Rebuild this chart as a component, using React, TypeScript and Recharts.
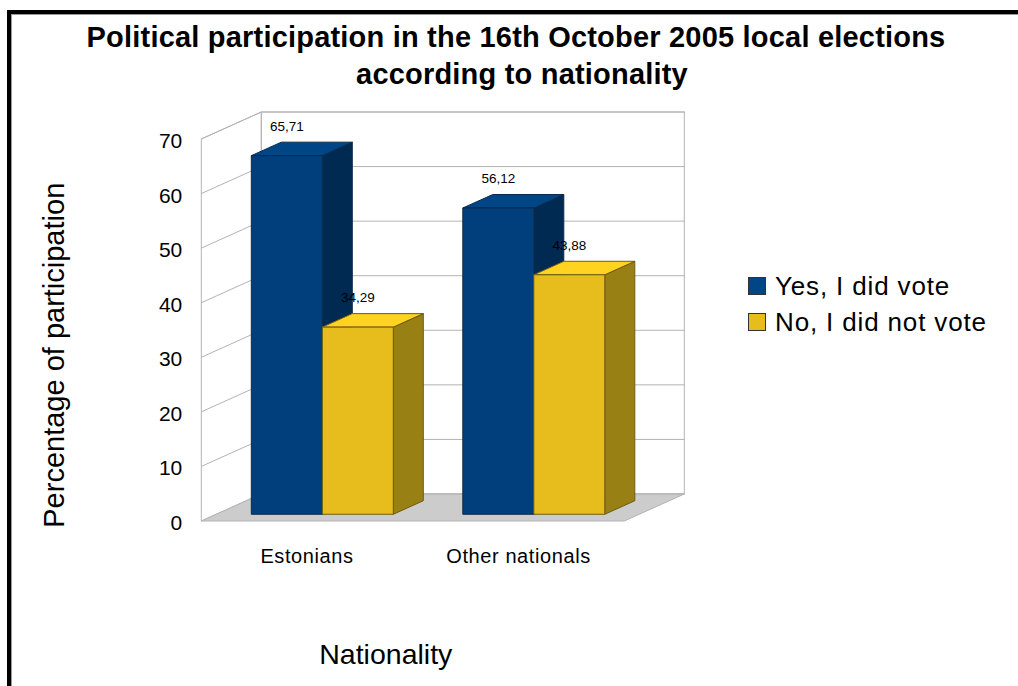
import { Bar, BarChart, CartesianGrid, LabelList, Legend, XAxis, YAxis, usePlotArea } from "recharts";

const nationalities = ["Estonians", "Other nationals"];
const votedYes = [65.71, 56.12];
const votedNo = [34.29, 43.88];
const yTicks = [0, 10, 20, 30, 40, 50, 60, 70];

const chartData = nationalities.map((name, i) => ({ name, yes: votedYes[i], no: votedNo[i] }));

const FONT = "'Liberation Sans', Arial, sans-serif";
const WIDTH = 1018;
const HEIGHT = 686;

// Bars stand a quarter of the way into the room; the room is 60 wide and 27 tall in projection
const DEPTH_X = 30;
const DEPTH_Y = 13.5;
const GAP_X = DEPTH_X / 2;
const GAP_Y = DEPTH_Y / 2;

const BLUE = { front: "#003f7c", top: "#004586", side: "#002a52", edge: "#0d2a4a" };
const YELLOW = { front: "#e6bd1c", top: "#ffd320", side: "#998014", edge: "#6e5c10" };
const GRID = "#b3b3b3";

function Box3D(props: any) {
    const { x, y, width, height, colors } = props;
    const r = x + width;
    const b = y + height;
    return (
        <g stroke={colors.edge} strokeWidth={1} strokeLinejoin="round">
            <path d={`M${r} ${y}L${r + DEPTH_X} ${y - DEPTH_Y}V${b - DEPTH_Y}L${r} ${b}Z`} fill={colors.side} />
            <path d={`M${x} ${y}L${x + DEPTH_X} ${y - DEPTH_Y}H${r + DEPTH_X}L${r} ${y}Z`} fill={colors.top} />
            <rect x={x} y={y} width={width} height={height} fill={colors.front} />
        </g>
    );
}

// Floor and wall outlines, projected out of the plot area
function Room() {
    const plot = usePlotArea();
    if (!plot) return null;
    const left = plot.x - GAP_X;
    const right = left + plot.width;
    const bottom = plot.y + plot.height + GAP_Y;
    const top = plot.y + GAP_Y;
    const dx = GAP_X * 4;
    const dy = GAP_Y * 4;
    return (
        <g stroke={GRID} strokeWidth={1}>
            <path d={`M${left} ${bottom}L${left + dx} ${bottom - dy}H${right + dx}L${right} ${bottom}Z`} fill="#cccccc" />
            <path d={`M${left} ${bottom}V${top}L${left + dx} ${top - dy}V${bottom - dy}`} fill="none" />
            <rect x={left + dx} y={top - dy} width={plot.width} height={plot.height} fill="none" />
        </g>
    );
}

function GridLine(props: any) {
    const { x1, x2, y1, key } = props;
    const dx = GAP_X * 4;
    const dy = GAP_Y * 4;
    const left = x1 - GAP_X;
    const front = y1 + GAP_Y;
    const width = x2 - x1;
    return (
        <path
            key={key}
            d={`M${left} ${front}L${left + dx} ${front - dy}H${left + dx + width}`}
            fill="none"
            stroke={GRID}
            strokeWidth={1}
        />
    );
}

function YTick(props: any) {
    const { x, y, payload } = props;
    return (
        <text x={x - 26} y={y + GAP_Y + 9} textAnchor="end" fontSize={21} fontFamily={FONT} fill="#000">
            {payload.value}
        </text>
    );
}

function XTick(props: any) {
    const { x, y, payload } = props;
    return (
        <text x={x - GAP_X} y={y + 41} textAnchor="middle" fontSize={20} letterSpacing={0.6} fontFamily={FONT} fill="#000">
            {payload.value}
        </text>
    );
}

function LegendBox(props: any) {
    return (
        <div style={{ fontFamily: FONT, fontSize: 26, letterSpacing: 0.85, color: "#000" }}>
            {props.payload.map((item: any) => (
                <div key={item.value} style={{ display: "flex", alignItems: "center", height: 36 }}>
                    <span
                        style={{
                            width: 16,
                            height: 16,
                            marginRight: 9,
                            background: item.color,
                            border: "1px solid #333",
                        }}
                    />
                    {item.value}
                </div>
            ))}
        </div>
    );
}

const commaFormat = (value: any) => String(value).replace(".", ",");

export default function App() {
    return (
        <div style={{ position: "fixed", left: 0, top: 0, width: WIDTH, height: HEIGHT, background: "#fff", overflow: "hidden" }}>
            <BarChart
                width={WIDTH}
                height={HEIGHT}
                data={chartData}
                barSize={71}
                barGap={0}
                margin={{ top: 132.25, right: 378.7, bottom: 0, left: 0 }}
            >
                <rect x={7} y={10} width={WIDTH} height={4} fill="#000" />
                <rect x={7} y={10} width={4} height={HEIGHT} fill="#000" />
                <rect x={11} y={14} width={WIDTH} height={1} fill="#999" />
                <rect x={11} y={14} width={1} height={HEIGHT} fill="#999" />
                <text x={516} y={47} textAnchor="middle" fontSize={29} letterSpacing={0.2} fontWeight="bold" fontFamily={FONT} fill="#000">
                    Political participation in the 16th October 2005 local elections
                </text>
                <text x={522} y={84} textAnchor="middle" fontSize={29} letterSpacing={0.2} fontWeight="bold" fontFamily={FONT} fill="#000">
                    according to nationality
                </text>
                <Room />
                <CartesianGrid vertical={false} horizontal={GridLine} />
                <XAxis
                    dataKey="name"
                    height={171.75}
                    axisLine={false}
                    tickLine={false}
                    tick={XTick}
                    label={{ value: "Nationality", position: "center", dx: -42, dy: 54, fontSize: 28.5, fontFamily: FONT, fill: "#000" }}
                />
                <YAxis
                    width={216.3}
                    domain={[0, 70]}
                    ticks={yTicks}
                    interval={0}
                    axisLine={false}
                    tickLine={false}
                    tick={YTick}
                    label={{ value: "Percentage of participation", angle: -90, position: "center", dx: -54, dy: 32, fontSize: 29, fontFamily: FONT, fill: "#000" }}
                />
                <Legend
                    layout="vertical"
                    align="center"
                    verticalAlign="middle"
                    itemSorter={null}
                    content={LegendBox}
                    wrapperStyle={{ left: 748, top: 268, width: 260 }}
                />
                <Bar dataKey="yes" name="Yes, I did vote" fill={BLUE.top} isAnimationActive={false} shape={(p: any) => <Box3D {...p} colors={BLUE} />}>
                    <LabelList dataKey="yes" position="top" offset={25} formatter={commaFormat} fontSize={13.5} fontFamily={FONT} fill="#000" />
                </Bar>
                <Bar dataKey="no" name="No, I did not vote" fill={YELLOW.front} isAnimationActive={false} shape={(p: any) => <Box3D {...p} colors={YELLOW} />}>
                    <LabelList dataKey="no" position="top" offset={25} formatter={commaFormat} fontSize={13.5} fontFamily={FONT} fill="#000" />
                </Bar>
            </BarChart>
        </div>
    );
}
